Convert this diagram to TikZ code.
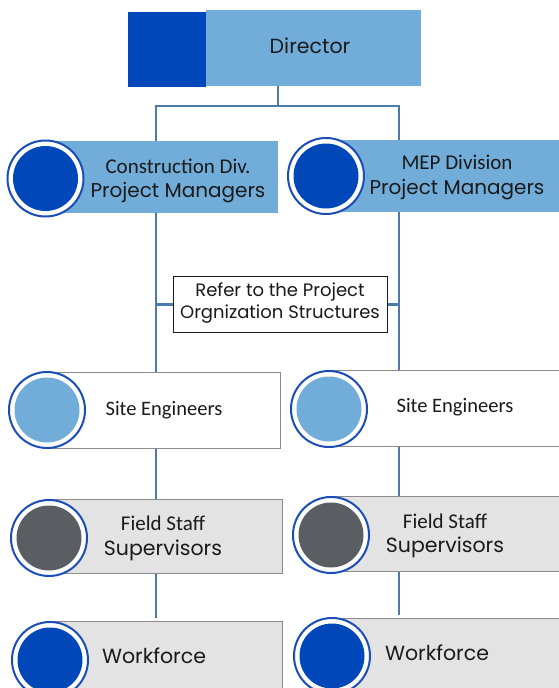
\documentclass[tikz,border=0pt]{standalone}
\usepackage{fontspec}
\newfontfamily\popf{Poppins}
\newfontfamily\calf{Carlito}
\usetikzlibrary{backgrounds}
\definecolor{dblue}{HTML}{0047BA}
\definecolor{lblue}{HTML}{72ADDA}
\definecolor{conn}{HTML}{4B7AAE}
\definecolor{ringb}{HTML}{1A4DB5}
\definecolor{dgray}{HTML}{5A5D62}
\definecolor{lgray}{HTML}{E3E3E3}
\definecolor{bgray}{HTML}{8C8C8C}
\definecolor{txt}{HTML}{1A1A1A}
\tikzset{
  box/.style={rectangle, inner sep=0pt, anchor=north west},
  connline/.style={draw=conn, line width=2.2pt},
  badge/.style={circle, minimum size=76pt, inner sep=0pt, fill=white, draw=ringb, line width=2pt,
     path picture={\fill[#1] (path picture bounding box.center) circle (32.5pt);}},
  lbl/.style={text=txt, align=center, inner sep=0pt},
  twoline/.style={lbl, font=\popf\fontsize{20}{24.5}\selectfont},
}
\newcommand{\popbig}{\popf\fontsize{20.5}{24}\selectfont}
\newcommand{\calbig}{\calf\fontsize{20.5}{24}\selectfont}
\newcommand{\calline}[1]{{\calf\fontsize{21}{24.5}\selectfont #1}}
\begin{document}
\begin{tikzpicture}[x=1pt,y=-1pt]
\useasboundingbox (0,0) rectangle (559,688);
\clip (0,0) rectangle (559,688);
% Director
\node[box, fill=dblue, minimum width=78pt, minimum height=75pt] (dirA) at (128,12) {};
\node[box, fill=lblue, minimum width=215pt, minimum height=76pt] (dirB) at (206,10) {};
\node[lbl, font=\popbig] (dirT) at (310,46) {Director};
% PMs
\node[box, fill=lblue, minimum width=233pt, minimum height=72pt] (pm1) at (45,141) {};
\node[badge=dblue] (pm1c) at (45.5,178.5) {};
\node[twoline] (pm1t) at (178,181) {\calline{Construction Div.}\\Project Managers};
\node[box, fill=lblue, minimum width=240pt, minimum height=72pt] (pm2) at (326,140) {};
\node[badge=dblue] (pm2c) at (326,176) {};
\node[twoline] (pm2t) at (457,177.5) {\calline{MEP Division}\\Project Managers};
% Refer box
\node[box, fill=white, draw=txt, line width=0.8pt, minimum width=214pt, minimum height=56pt] (ref) at (173,276) {};
\node[lbl, font=\popf\fontsize{18}{22}\selectfont] (reft) at (280,303) {Refer to the Project\\Orgnization Structures};
% Site engineers
\node[box, fill=white, draw=bgray, line width=1pt, minimum width=233pt, minimum height=76pt] (se1) at (47,372) {};
\node[badge=lblue] (se1c) at (47,410) {};
\node[lbl, font=\calbig] (se1t) at (164,410) {Site Engineers};
\node[box, fill=white, draw=bgray, line width=1pt, minimum width=240pt, minimum height=76pt] (se2) at (329,370) {};
\node[badge=lblue] (se2c) at (329,409) {};
\node[lbl, font=\calbig] (se2t) at (455,407) {Site Engineers};
% Field staff
\node[box, fill=lgray, draw=bgray, line width=1pt, minimum width=233pt, minimum height=74pt] (fs1) at (49,499) {};
\node[badge=dgray] (fs1c) at (49,538) {};
\node[twoline, font=\popf\fontsize{20.5}{25}\selectfont] (fs1t) at (163,538.5) {\calline{Field Staff}\\Supervisors};
\node[box, fill=lgray, draw=bgray, line width=1pt, minimum width=240pt, minimum height=75pt] (fs2) at (331,496) {};
\node[badge=dgray] (fs2c) at (331,535) {};
\node[twoline, font=\popf\fontsize{20.5}{24}\selectfont] (fs2t) at (445,536) {\calline{Field Staff}\\Supervisors};
% Workforce
\node[box, fill=lgray, draw=bgray, line width=1pt, minimum width=232pt, minimum height=90pt] (wf1) at (50,621) {};
\node[badge=dblue] (wf1c) at (50,660) {};
\node[lbl, font=\popbig] (wf1t) at (154,656) {Workforce};
\node[box, fill=lgray, draw=bgray, line width=1pt, minimum width=240pt, minimum height=90pt] (wf2) at (332,618) {};
\node[badge=dblue] (wf2c) at (332,656) {};
\node[lbl, font=\popbig] (wf2t) at (437,653) {Workforce};
% connectors
\coordinate (J) at (278,106);
\coordinate (L) at (156,0);
\coordinate (R) at (399,0);
\begin{pgfonlayer}{background}
\draw[connline] (dirB.south -| J) -- (J);
\draw[connline] (pm1.north -| L) |- (J) -| (pm2.north -| R);
\draw[connline] (pm1.south -| L) -- (se1.north -| L);
\draw[connline] (pm2.south -| R) -- (se2.north -| R);
\draw[connline] (ref.west) -- (ref.west -| L);
\draw[connline] (ref.east) -- (ref.east -| R);
\draw[connline] (se1.south -| L) -- (fs1.north -| L);
\draw[connline] (se2.south -| R) -- (fs2.north -| R);
\draw[connline] (fs1.south -| L) -- ([yshift=3pt]wf1.north -| L);
\draw[connline] (fs2.south -| R) -- ([yshift=3pt]wf2.north -| R);
\end{pgfonlayer}
\end{tikzpicture}
\end{document}
